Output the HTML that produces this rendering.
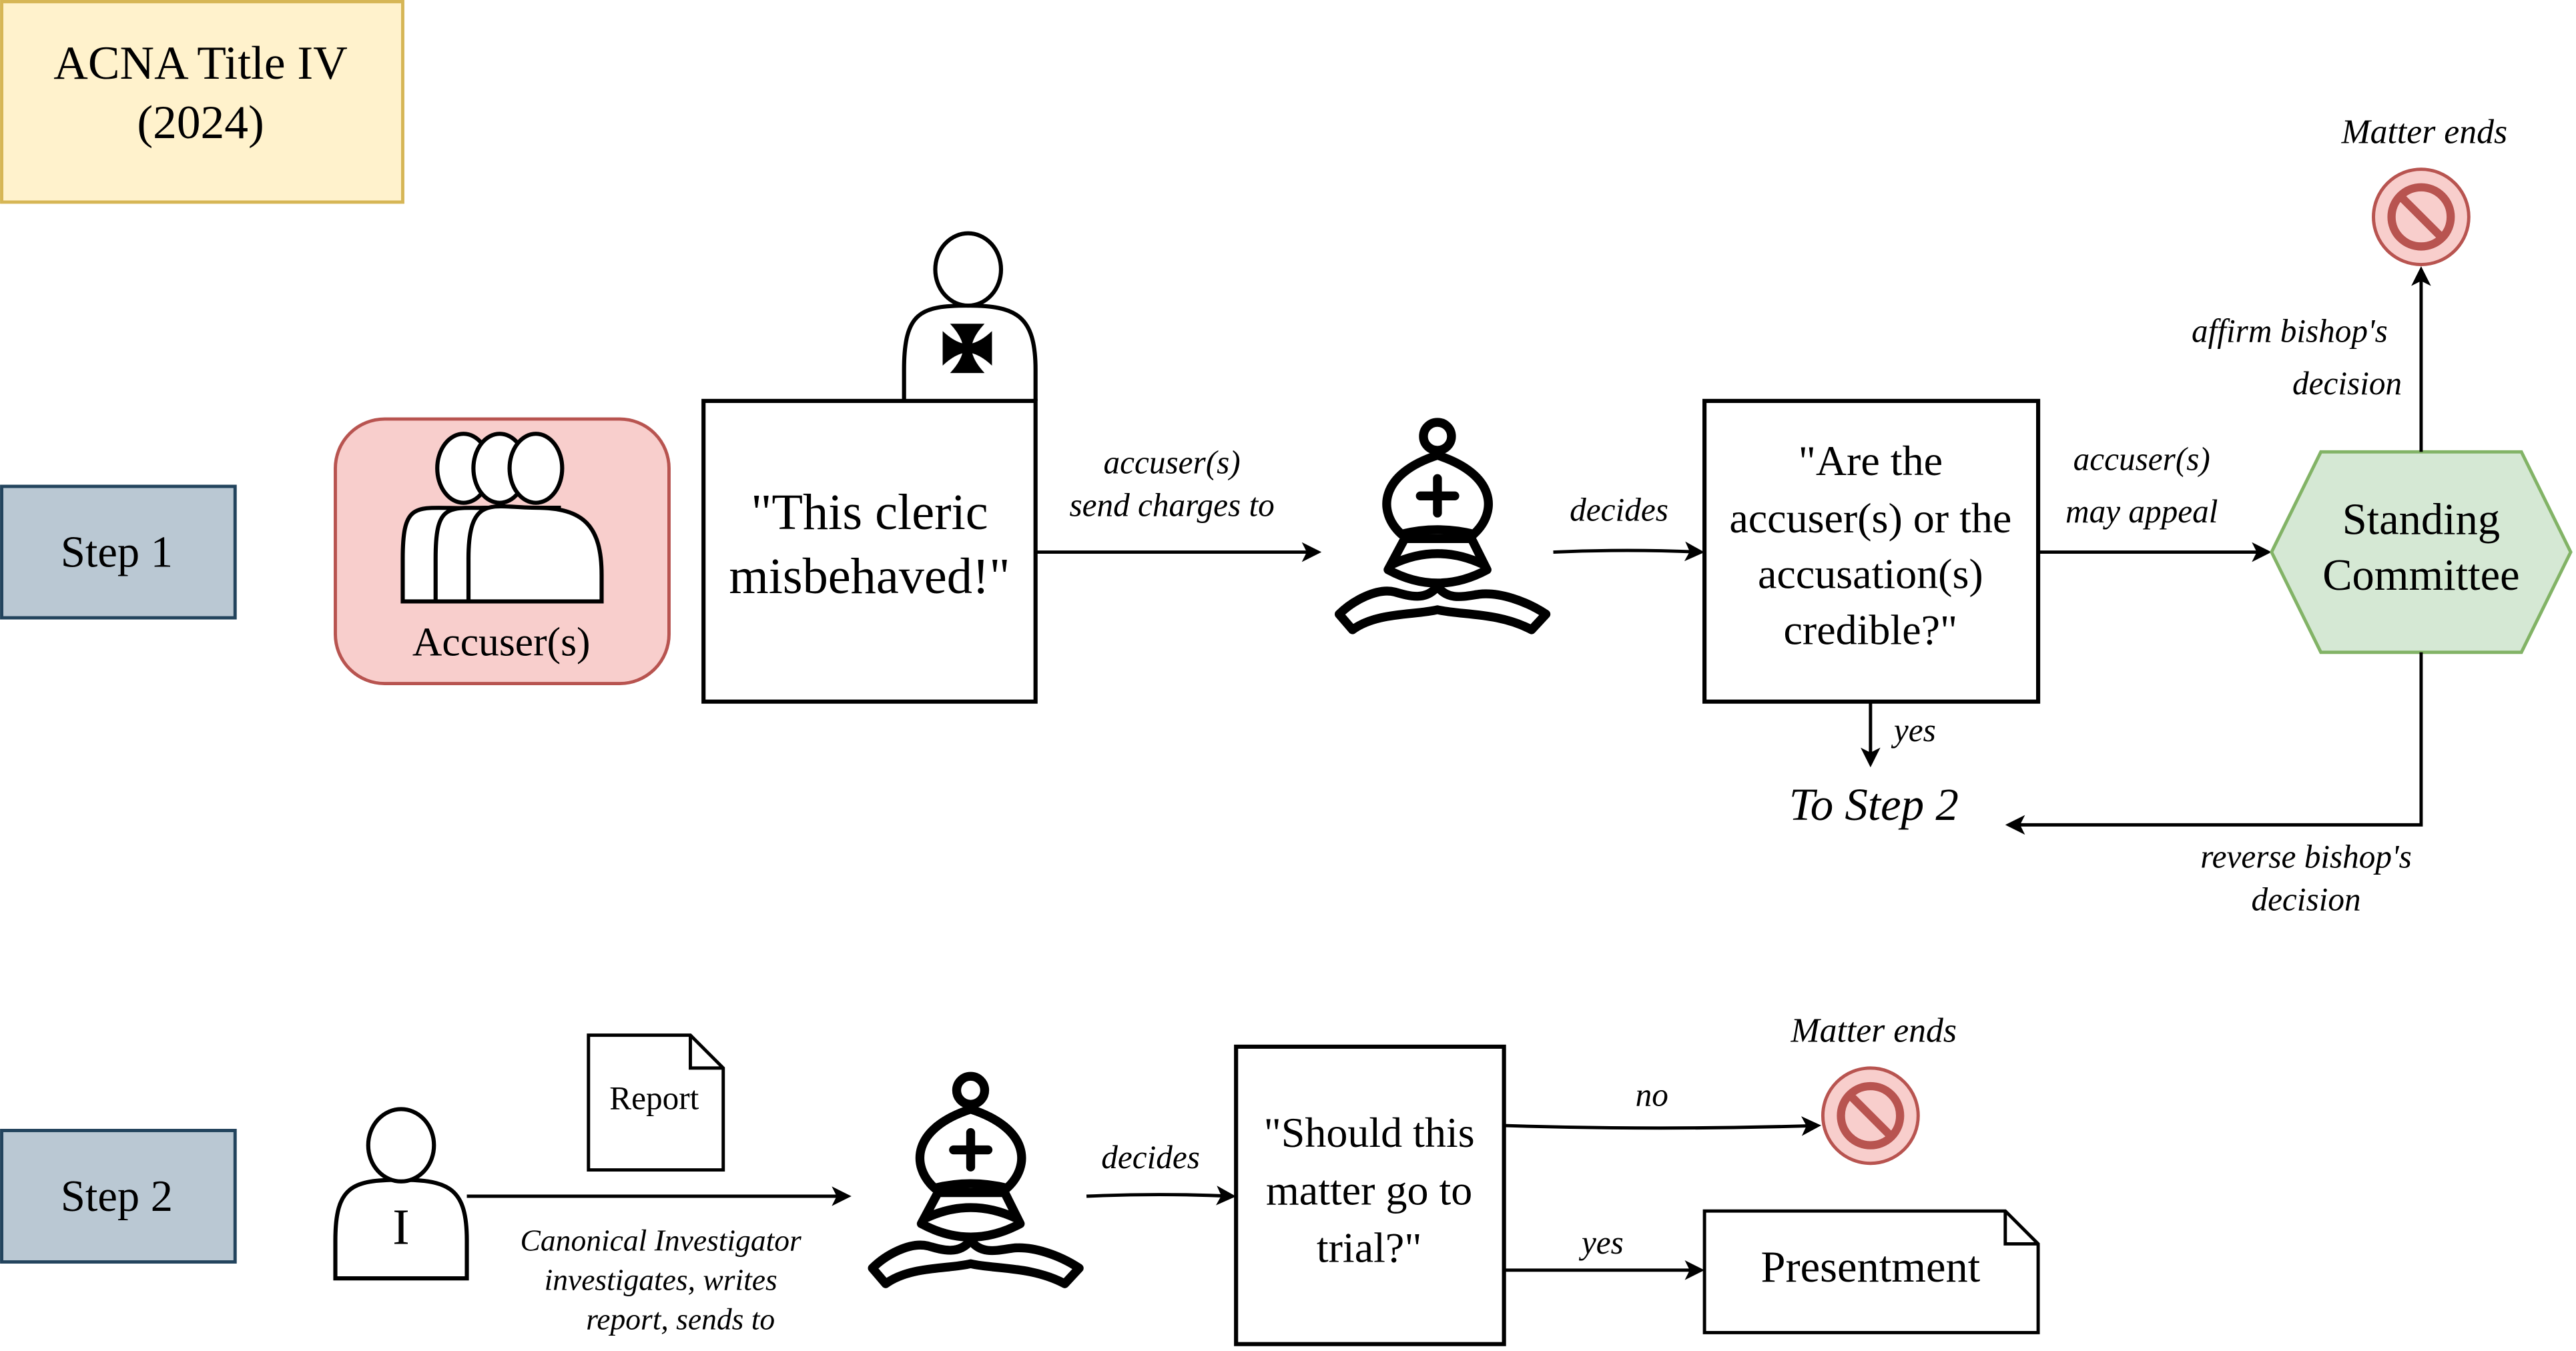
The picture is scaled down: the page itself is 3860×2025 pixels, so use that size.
<!DOCTYPE html>
<html><head><meta charset="utf-8"><style>
html,body{margin:0;padding:0;background:#fff;}
svg{display:block;}
text{font-family:"Liberation Serif",serif;fill:#000;}
.it{font-style:italic;}
</style></head><body>
<svg width="3860" height="2025" viewBox="0 0 1567.2 822.2" xmlns="http://www.w3.org/2000/svg">
<defs>
<marker id="ar" markerWidth="12" markerHeight="12" refX="10" refY="6" orient="auto" markerUnits="userSpaceOnUse">
<path d="M0,0 L12,6 L0,12 L3,6 Z" fill="#000"/>
</marker>
<g id="bishop">
<g fill="#fff" stroke="#000" stroke-width="40" stroke-linejoin="round" stroke-linecap="round">
<path d="M522 835 C470 900,400 880,330 860 C250 840,140 900,80 960 L140 1030 C250 950,420 965,522 940 C625 965,795 950,945 1030 L1010 960 C920 900,800 860,710 870 C640 880,570 900,522 835 Z"/>
<path d="M375 620 L300 760 Q522 880 745 760 L675 620 Z"/>
<path d="M320 735 Q522 640 725 735" fill="none"/>
<path d="M360 600 C250 500,260 330,522 245 C785 330,795 500,685 600 Q522 560 360 600 Z"/>
<circle cx="522" cy="160" r="63"/>
<path d="M522 350 L522 505 M445 428 L600 428" fill="none"/>
</g>
</g>
<g id="nosign">
<circle r="29" fill="#f8cecc" stroke="#b85450" stroke-width="2"/>
<circle r="18" fill="none" stroke="#b85450" stroke-width="5"/>
<line x1="-12.7" y1="-12.7" x2="12.7" y2="12.7" stroke="#b85450" stroke-width="5"/>
</g>
<path id="arm" d="M-10.5,-15 L10.5,-15 Q3,-7 2.5,0 L-2.5,0 Q-3,-7 -10.5,-15 Z" fill="#000"/>
</defs>

<!-- Title -->
<rect x="1" y="1" width="244" height="122" fill="#fff2cc" stroke="#d6b656" stroke-width="2"/>
<text x="122" y="48" font-size="29" text-anchor="middle">ACNA Title IV</text>
<text x="122" y="84" font-size="29" text-anchor="middle">(2024)</text>

<!-- Steps -->
<rect x="1" y="296" width="142" height="80" fill="#bac8d3" stroke="#23445d" stroke-width="2"/>
<text x="71" y="345" font-size="27" text-anchor="middle">Step 1</text>
<rect x="1" y="688" width="142" height="80" fill="#bac8d3" stroke="#23445d" stroke-width="2"/>
<text x="71" y="737" font-size="27" text-anchor="middle">Step 2</text>

<!-- Accuser -->
<rect x="204" y="255" width="203" height="161" rx="30" fill="#f8cecc" stroke="#b85450" stroke-width="2"/>
<g fill="#fff" stroke="#000" stroke-width="2.5">
<path d="M245 366 L245 340 C245 300,255 311,295 309 L320 309 L320 366 Z"/>
<ellipse cx="282" cy="285" rx="16" ry="21"/>
<path d="M265 366 L265 340 C265 300,275 311,315 309 L340 309 L340 366 Z"/>
<ellipse cx="304" cy="285" rx="16" ry="21"/>
<path d="M285 366 L285 340 C285 300,300 309,326 309 C355 309,366 320,366 350 L366 366 Z"/>
<ellipse cx="326" cy="285" rx="16" ry="21"/>
</g>
<text x="305" y="399" font-size="25" text-anchor="middle">Accuser(s)</text>

<!-- Cleric -->
<g fill="#fff" stroke="#000" stroke-width="2.5">
<path d="M550 244 L550 225 C550 190,560 186,589 186 C618 186,630 192,630 225 L630 244"/>
<ellipse cx="589" cy="164" rx="20" ry="22"/>
</g>
<g transform="translate(588.5,212)">
<use href="#arm"/>
<use href="#arm" transform="rotate(90)"/>
<use href="#arm" transform="rotate(180)"/>
<use href="#arm" transform="rotate(270)"/>
<rect x="-3" y="-3" width="6" height="6" fill="#000"/>
</g>
<rect x="428" y="244" width="202" height="183" fill="#fff" stroke="#000" stroke-width="2.5"/>
<text x="529" y="322" font-size="31" text-anchor="middle">"This cleric</text>
<text x="529" y="361" font-size="31" text-anchor="middle">misbehaved!"</text>

<line x1="630" y1="336" x2="802" y2="336" stroke="#000" stroke-width="2" marker-end="url(#ar)"/>
<text class="it" x="713" y="288" font-size="20" text-anchor="middle">accuser(s)</text>
<text class="it" x="713" y="314" font-size="20" text-anchor="middle">send charges to</text>

<use href="#bishop" transform="translate(803.9,243.9) scale(0.1353)"/>

<path d="M945 336 Q990 334 1035 336" fill="none" stroke="#000" stroke-width="2" marker-end="url(#ar)"/>
<text class="it" x="985" y="317" font-size="20" text-anchor="middle">decides</text>

<rect x="1037" y="244" width="203" height="183" fill="#fff" stroke="#000" stroke-width="2.5"/>
<text x="1138" y="289" font-size="26" text-anchor="middle">"Are the</text>
<text x="1138" y="324" font-size="26" text-anchor="middle">accuser(s) or the</text>
<text x="1138" y="358" font-size="26" text-anchor="middle">accusation(s)</text>
<text x="1138" y="392" font-size="26" text-anchor="middle">credible?"</text>

<line x1="1138" y1="427" x2="1138" y2="465" stroke="#000" stroke-width="2" marker-end="url(#ar)"/>
<text class="it" x="1165" y="451" font-size="20" text-anchor="middle">yes</text>
<text class="it" x="1140" y="499" font-size="28" text-anchor="middle">To Step 2</text>

<line x1="1240" y1="336" x2="1380" y2="336" stroke="#000" stroke-width="2" marker-end="url(#ar)"/>
<text class="it" x="1303" y="286" font-size="20" text-anchor="middle">accuser(s)</text>
<text class="it" x="1303" y="318" font-size="20" text-anchor="middle">may appeal</text>

<polygon points="1412,275 1534,275 1564,336 1534,397 1412,397 1382,336" fill="#d5e8d4" stroke="#82b366" stroke-width="2"/>
<text x="1473" y="325" font-size="27" text-anchor="middle">Standing</text>
<text x="1473" y="359" font-size="27" text-anchor="middle">Committee</text>

<line x1="1473" y1="275" x2="1473" y2="164" stroke="#000" stroke-width="2" marker-end="url(#ar)"/>
<text class="it" x="1393" y="208" font-size="20" text-anchor="middle">affirm bishop's</text>
<text class="it" x="1428" y="240" font-size="20" text-anchor="middle">decision</text>
<use href="#nosign" transform="translate(1473,132)"/>
<text class="it" x="1475" y="87" font-size="21" text-anchor="middle">Matter ends</text>

<path d="M1473 397 L1473 502 L1222 502" fill="none" stroke="#000" stroke-width="2" marker-end="url(#ar)"/>
<text class="it" x="1403" y="528" font-size="20" text-anchor="middle">reverse bishop's</text>
<text class="it" x="1403" y="554" font-size="20" text-anchor="middle">decision</text>

<!-- Step 2 row -->
<g fill="#fff" stroke="#000" stroke-width="2.5">
<path d="M204 778 L204 755 C204 722,214 718,244 718 C274 718,284 724,284 755 L284 778 Z"/>
<ellipse cx="244" cy="697" rx="20" ry="22"/>
</g>
<text x="244" y="757" font-size="31" text-anchor="middle">I</text>

<path d="M358 630 L420 630 L440 650 L440 712 L358 712 Z M420 630 L420 650 L440 650" fill="#fff" stroke="#000" stroke-width="2"/>
<text x="398" y="675" font-size="20" text-anchor="middle">Report</text>

<line x1="284" y1="728" x2="516" y2="728" stroke="#000" stroke-width="2" marker-end="url(#ar)"/>
<text class="it" x="402" y="761" font-size="18.5" text-anchor="middle">Canonical Investigator</text>
<text class="it" x="402" y="785" font-size="18.5" text-anchor="middle">investigates, writes</text>
<text class="it" x="414" y="809" font-size="18.5" text-anchor="middle">report, sends to</text>

<use href="#bishop" transform="translate(519.9,641.9) scale(0.1353)"/>

<path d="M661 728 Q705 726 750 728" fill="none" stroke="#000" stroke-width="2" marker-end="url(#ar)"/>
<text class="it" x="700" y="711" font-size="20" text-anchor="middle">decides</text>

<rect x="752" y="637" width="163" height="181" fill="#fff" stroke="#000" stroke-width="2.5"/>
<text x="833" y="698" font-size="26" text-anchor="middle">"Should this</text>
<text x="833" y="733" font-size="26" text-anchor="middle">matter go to</text>
<text x="833" y="768" font-size="26" text-anchor="middle">trial?"</text>

<path d="M915 685 Q1010 688 1106 685" fill="none" stroke="#000" stroke-width="2" marker-end="url(#ar)"/>
<text class="it" x="1005" y="673" font-size="20" text-anchor="middle">no</text>
<use href="#nosign" transform="translate(1138,679)"/>
<text class="it" x="1140" y="634" font-size="21" text-anchor="middle">Matter ends</text>

<line x1="915" y1="773" x2="1035" y2="773" stroke="#000" stroke-width="2" marker-end="url(#ar)"/>
<text class="it" x="975" y="763" font-size="20" text-anchor="middle">yes</text>

<path d="M1037 737 L1220 737 L1240 757 L1240 811 L1037 811 Z M1220 737 L1220 757 L1240 757" fill="#fff" stroke="#000" stroke-width="2"/>
<text x="1138" y="780" font-size="27" text-anchor="middle">Presentment</text>
</svg>
</body></html>
